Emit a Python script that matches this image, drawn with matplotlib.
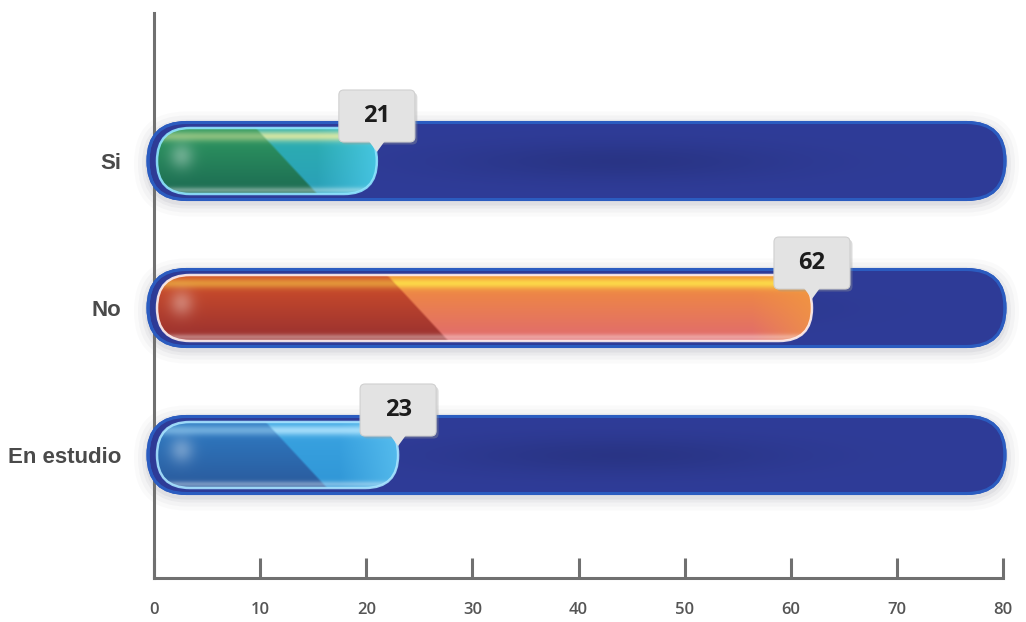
import numpy as np
import matplotlib
matplotlib.use("Agg")
import matplotlib.pyplot as plt
from matplotlib.patches import FancyBboxPatch, Polygon
from matplotlib.transforms import Affine2D, ScaledTranslation
from matplotlib.colors import to_rgb

categories = ["Si", "No", "En estudio"]
values = [21, 62, 23]
xticks = [0, 10, 20, 30, 40, 50, 60, 70, 80]
xmax = 80

# style: (left-top, left-bottom, right-top, right-bottom, right-end, highlight, border)
styles = [
    ("#2f9a62", "#1c6a52", "#2cb0b0", "#2a9fb8", "#52d2f4", "#f4f0a0", "#8fe4ff"),
    ("#d2502a", "#983030", "#f29038", "#e06a6e", "#f29a40", "#ffe84a", "#fff0f0"),
    ("#2f7cc4", "#2a5a9c", "#3aa4e2", "#3096d6", "#62c8f4", "#b8e8ff", "#a8e4ff"),
]

W, H = 1026, 622
fig = plt.figure(figsize=(W / 100, H / 100), dpi=100)
fig.patch.set_facecolor("white")
ax = fig.add_axes([154 / W, 1 - 578 / H, 849 / W, (578 - 13) / H])
ax.set_facecolor("white")
ax.set_xlim(0, xmax)
ytop = -(161 - 13) / 147
ybot = (578 - 161) / 147
ax.set_ylim(ybot, ytop)

ppx = ax.transData.transform((1, 0))[0] - ax.transData.transform((0, 0))[0]
ppy = abs(ax.transData.transform((0, 1))[1] - ax.transData.transform((0, 0))[1])
aspect = ppx / ppy


def capsule(x0, x1, yc, hpx, **kw):
    h = hpx / ppy
    r = (hpx / 2) / ppx
    p = FancyBboxPatch((x0, yc - h / 2), x1 - x0, h,
                       boxstyle=f"round,pad=0,rounding_size={r}",
                       mutation_aspect=aspect, **kw)
    ax.add_patch(p)
    return p


def lerp(a, b, t):
    return a + (b - a) * t


bg_h = 77
val_h = 66
bg_x0 = -6 / ppx
bg_x1 = xmax + 2 / ppx

for i, (cat, v, st) in enumerate(zip(categories, values, styles)):
    # soft shadow
    for k, a in [(14, 0.035), (10, 0.05), (6, 0.07), (3, 0.09)]:
        capsule(bg_x0 - k / ppx, bg_x1 + k / ppx, i + 3 / ppy, bg_h + 2 * k,
                facecolor="#7a7a8a", edgecolor="none", alpha=a, zorder=1, clip_on=False)
    # background track
    bg = capsule(bg_x0, bg_x1, i, bg_h, facecolor="#2e3a95", edgecolor="#2b5cc0",
                 linewidth=2.2, zorder=2, clip_on=False)
    wpx = int((bg_x1 - bg_x0) * ppx)
    u = np.linspace(0, 1, wpx)[None, :]
    vv = np.linspace(0, 1, bg_h)[:, None]
    base = np.array(to_rgb("#2f3c98"))
    dark = 0.12 * np.exp(-((u - 0.55) / 0.2) ** 2) * np.exp(-((vv - 0.5) / 0.25) ** 2)
    img = base[None, None, :] * (1 - dark[..., None])
    im = ax.imshow(img, extent=(bg_x0, bg_x1, i + bg_h / 2 / ppy, i - bg_h / 2 / ppy),
                   aspect="auto", zorder=2.5, interpolation="bilinear")
    im.set_clip_path(bg)
    capsule(bg_x0, bg_x1, i, bg_h, facecolor="none", edgecolor="#2b5cc0",
            linewidth=2.2, zorder=2.6, clip_on=False)

    # value bar
    x0 = 3 / ppx
    vb = capsule(x0, v, i, val_h, facecolor=st[2], edgecolor="none", zorder=3)
    wpx = max(int((v - x0) * ppx), 2)
    xs = np.arange(wpx)[None, :].astype(float)
    vs = np.linspace(0, 1, val_h)[:, None]
    lt, lb, rt, rb, re, hl, bd = [np.array(to_rgb(c)) for c in st]
    left = lerp(lt[None, None, :], lb[None, None, :], vs[..., None])
    right = lerp(rt[None, None, :], rb[None, None, :], vs[..., None])
    # right end brightening
    tend = np.clip((xs - (wpx - 60)) / 60, 0, 1)[..., None]
    right = lerp(right, re[None, None, :], tend * 0.7)
    dtop = min(0.45 * wpx, 230)
    diag = dtop + vs * 60
    m = np.clip((xs - diag) / 3 + 0.5, 0, 1)[..., None]
    img = lerp(left, right, m)
    # top highlight band (stronger on the light region)
    hstr = lerp(0.45, 0.8, m)
    ha = (np.exp(-((vs - 0.12) / 0.08) ** 2))[..., None] * hstr
    img = lerp(img, hl[None, None, :], ha)
    # bottom lighter edge
    ba = (0.35 * np.exp(-((vs - 0.95) / 0.05) ** 2))[..., None] * np.ones_like(xs)[..., None]
    img = lerp(img, np.ones(3)[None, None, :], ba)
    # left gloss spot
    gs = 0.3 * np.exp(-(((xs - 24) / 12) ** 2 + ((vs - 0.42) / 0.2) ** 2))[..., None]
    img = lerp(img, np.ones(3)[None, None, :], gs)
    img = np.clip(img, 0, 1)
    im = ax.imshow(img, extent=(x0, v, i + val_h / 2 / ppy, i - val_h / 2 / ppy),
                   aspect="auto", zorder=3.5, interpolation="bilinear")
    im.set_clip_path(vb)
    capsule(x0, v, i, val_h, facecolor="none", edgecolor=st[6], linewidth=1.8,
            zorder=3.6, alpha=0.9)

    # callout label
    tr = Affine2D() + ScaledTranslation(v, i, ax.transData)
    sh = FancyBboxPatch((-37, 18), 76, 52, boxstyle="round,pad=0,rounding_size=5",
                        transform=Affine2D().translate(1.5, -1.5) + tr,
                        facecolor="#9a9a9a", edgecolor="none", alpha=0.35, zorder=4)
    ax.add_patch(sh)
    box = FancyBboxPatch((-38, 19), 76, 52, boxstyle="round,pad=0,rounding_size=5",
                         transform=tr, facecolor="#e3e3e3", edgecolor="#d0d0d0",
                         linewidth=0.8, zorder=5)
    ax.add_patch(box)
    tri = Polygon([(-8, 20), (8, 20), (0, 9)], closed=True, transform=tr,
                  facecolor="#e3e3e3", edgecolor="none", zorder=5.1)
    ax.add_patch(tri)
    ax.text(0, 45, str(v), transform=tr, ha="center", va="center",
            fontsize=17, fontweight="bold", color="#1c1c1c",
            family=["Open Sans", "DejaVu Sans"], zorder=6)

ax.set_yticks(range(len(categories)))
ax.set_yticklabels(categories, family=["Liberation Sans", "DejaVu Sans"],
                   fontweight="bold", fontsize=16, color="#4a4a4a")
ax.tick_params(axis="y", length=0, pad=23.5)
ax.set_xticks(xticks)
ax.set_xticklabels([str(t) for t in xticks], family=["Open Sans", "DejaVu Sans"],
                   fontsize=12, fontweight="semibold", color="#555555")
ax.tick_params(axis="x", direction="in", length=14.4, width=2.2, color="#707070", pad=17)

for s in ["top", "right"]:
    ax.spines[s].set_visible(False)
for s in ["left", "bottom"]:
    ax.spines[s].set_color("#707070")
    ax.spines[s].set_linewidth(2.2)
    ax.spines[s].set_zorder(1.5)

fig.savefig("out.png", dpi=100, facecolor="white")
